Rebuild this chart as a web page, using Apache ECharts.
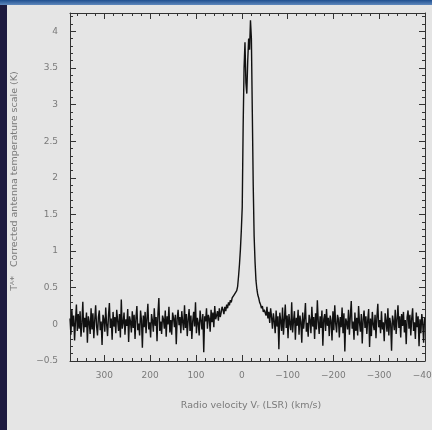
<!DOCTYPE html>
<html>
<head>
<meta charset="utf-8">
<script src="https://cdn.jsdelivr.net/npm/echarts@6/dist/echarts.min.js"></script>
<style>
html,body{margin:0;padding:0;background:#e5e5e5;overflow:hidden;}
#chart{width:432px;height:430px;}
</style>
</head>
<body>
<div id="chart"></div>
<script>
// Spectrum channels: first channel velocity and channel width (km/s)
const firstChannelVelocity = 375;
const channelWidth = -2;

// Antenna temperature (K), baseline left of the line (v = 375 ... 43 km/s)
const baselineLeft = [
  0.08, -0.14, 0.21, -0.03, 0.12, -0.22, 0.05, 0.27, -0.09, 0.14,
  -0.06, 0.18, -0.17, 0.02, 0.31, -0.11, 0.09, -0.04, 0.16, -0.25,
  0.11, 0.03, -0.13, 0.22, -0.07, 0.15, -0.19, 0.06, 0.26, -0.02,
  -0.15, 0.1, 0.19, -0.08, 0.04, -0.28, 0.13, 0.07, -0.1, 0.23,
  0.0, -0.16, 0.12, 0.29, -0.05, 0.08, -0.21, 0.17, -0.03, 0.1,
  -0.12, 0.2, 0.05, -0.09, 0.14, -0.18, 0.34, -0.06, 0.02, 0.16,
  -0.14, 0.07, -0.02, 0.21, -0.24, 0.11, 0.04, -0.11, 0.18, -0.05,
  0.13, -0.2, 0.09, 0.25, -0.08, 0.01, -0.15, 0.19, 0.06, -0.32,
  0.12, -0.04, 0.17, -0.12, 0.08, 0.28, -0.07, 0.03, -0.18, 0.14,
  0.05, -0.1, 0.22, -0.02, 0.1, -0.23, 0.15, 0.36, -0.09, 0.04,
  -0.13, 0.12, 0.07, -0.06, 0.19, -0.17, 0.11, 0.0, 0.24, -0.11,
  0.06, -0.14, 0.16, 0.09, -0.04, 0.13, -0.27, 0.08, 0.2, -0.01,
  0.1, -0.12, 0.18, 0.03, -0.08, 0.26, -0.05, 0.14, -0.16, 0.07,
  0.21, -0.09, 0.12, -0.2, 0.05, 0.17, -0.03, 0.3, -0.12, 0.09,
  0.02, -0.15, 0.19, 0.06, -0.07, 0.14, -0.38, 0.11, 0.04, 0.22,
  -0.06, 0.13, 0.08, -0.1, 0.2, 0.03, 0.16, -0.04, 0.25, 0.07,
  0.12, 0.18, 0.05, 0.22, 0.1, 0.16, 0.24
];

// Emission line (v = 41 ... -49 km/s)
const lineProfile = [
  0.2, 0.14, 0.24, 0.18, 0.27, 0.22, 0.3, 0.26, 0.33, 0.3,
  0.36, 0.34, 0.4, 0.38, 0.42, 0.46, 0.52, 0.66, 0.82, 1.02,
  1.28, 1.6, 2.7, 3.5, 3.85, 3.3, 3.15, 3.6, 3.9, 3.75,
  4.15, 3.9, 2.9, 1.9, 1.2, 0.85, 0.6, 0.48, 0.4, 0.36,
  0.3, 0.27, 0.22, 0.25, 0.17, 0.2
];

// Baseline right of the line (v = -51 ... -399 km/s)
const baselineRight = [
  0.2, 0.12, 0.24, 0.08, 0.17, 0.02, 0.22, 0.1, -0.06, 0.15,
  0.04, -0.12, 0.19, -0.03, 0.11, -0.34, 0.16, 0.05, -0.09, 0.23,
  -0.14, 0.07, 0.27, -0.05, 0.12, -0.19, 0.14, 0.01, -0.08, 0.3,
  -0.11, 0.05, 0.18, -0.21, 0.09, -0.02, 0.2, -0.14, 0.12, 0.03,
  -0.25, 0.16, -0.06, 0.08, 0.29, -0.1, 0.02, -0.17, 0.13, 0.06,
  -0.12, 0.24, -0.03, 0.1, -0.2, 0.15, -0.07, 0.33, 0.04, -0.13,
  0.11, -0.05, 0.19, -0.29, 0.07, 0.14, -0.09, 0.21, -0.02, 0.09,
  -0.16, 0.12, 0.05, -0.22, 0.18, -0.08, 0.26, 0.01, -0.11, 0.13,
  0.07, -0.18, 0.1, -0.04, 0.23, -0.12, 0.15, -0.37, 0.08, 0.03,
  -0.07, 0.2, -0.14, 0.11, 0.32, -0.06, 0.04, -0.21, 0.16, -0.09,
  0.09, -0.15, 0.25, 0.02, -0.1, 0.14, -0.26, 0.07, 0.19, -0.05,
  0.11, -0.13, 0.06, 0.21, -0.31, 0.08, -0.16, 0.17, 0.0, -0.08,
  0.13, -0.19, 0.1, 0.28, -0.04, 0.06, -0.12, 0.18, -0.07, 0.03,
  -0.23, 0.15, 0.05, -0.1, 0.22, -0.15, 0.09, 0.01, -0.36, 0.12,
  0.04, -0.08, 0.2, -0.13, 0.07, 0.26, -0.05, 0.11, -0.18, 0.14,
  -0.02, 0.17, -0.11, 0.06, -0.27, 0.1, 0.19, -0.06, 0.13, -0.15,
  0.08, 0.22, -0.09, 0.03, -0.2, 0.16, -0.04, 0.11, -0.3, 0.07,
  -0.12, 0.14, 0.02, -0.25, 0.09
];

const xTickValues = [300, 200, 100, 0, -100, -200, -300, -400];
const yTickValues = [-0.5, 0, 0.5, 1, 1.5, 2, 2.5, 3, 3.5, 4];

const xTitle = 'Radio velocity V\u1D63 (LSR) (km/s)';
const yTitle = 'T\u1D2C*   Corrected antenna temperature scale (K)';

const temperatures = baselineLeft.concat(lineProfile, baselineRight);
const spectrum = temperatures.map((t, i) => [firstChannelVelocity + i * channelWidth, t]);

const minus = s => String(s).replace('-', '\u2212');
const tickCol = '#333';
const labelCol = '#7a7a7a';

const baseX = {
  type: 'value', inverse: true, min: -400, max: 375, interval: 100,
  splitLine: {show: false},
  axisLine: {show: true, onZero: false, lineStyle: {color: tickCol, width: 1}},
  axisTick: {show: true, inside: true, length: 6, lineStyle: {color: tickCol}},
  minorTick: {show: true, splitNumber: 5, length: 3, lineStyle: {color: tickCol}},
  minorSplitLine: {show: false}
};
const baseY = {
  type: 'value', min: -0.5, max: 4.25, interval: 0.5,
  splitLine: {show: false},
  axisLine: {show: true, onZero: false, lineStyle: {color: tickCol, width: 1}},
  axisTick: {show: true, inside: true, length: 6, lineStyle: {color: tickCol}},
  minorTick: {show: true, splitNumber: 5, length: 3, lineStyle: {color: tickCol}},
  minorSplitLine: {show: false}
};

const chart = echarts.init(document.getElementById('chart'), null, {renderer: 'canvas', width: 432, height: 430});
chart.setOption({
  backgroundColor: '#e5e5e5',
  animation: false,
  grid: {left: 70, right: 7, top: 13, bottom: 69, containLabel: false, outerBoundsMode: 'none'},
  xAxis: [
    Object.assign({}, baseX, {
      position: 'bottom',
      axisLabel: {
        show: true, color: labelCol, fontSize: 9, fontFamily: 'DejaVu Sans', margin: 10,
        showMaxLabel: false,
        formatter: v => xTickValues.includes(v) ? minus(v) : ''
      }
    }),
    Object.assign({}, baseX, {position: 'top', axisLabel: {show: false}})
  ],
  yAxis: [
    Object.assign({}, baseY, {
      position: 'left',
      axisLabel: {
        show: true, color: labelCol, fontSize: 9, fontFamily: 'DejaVu Sans', margin: 12,
        showMaxLabel: false,
        formatter: v => yTickValues.includes(v) ? minus(v) : ''
      }
    }),
    Object.assign({}, baseY, {position: 'right', axisLabel: {show: false}})
  ],
  graphic: [
    {type: 'rect', left: 0, top: 0, z: 100, shape: {width: 432, height: 5},
     style: {fill: new echarts.graphic.LinearGradient(0, 0, 0, 1, [
       {offset: 0, color: '#1f4f8f'}, {offset: 1, color: '#5f88bd'}])}},
    {type: 'rect', left: 0, top: 5, z: 100, shape: {width: 7, height: 425},
     style: {fill: '#1d1a3f'}},
    {type: 'text', x: 251, y: 406, z: 50,
     style: {text: xTitle, fill: labelCol, fontSize: 9.5, fontFamily: 'DejaVu Sans',
             align: 'center', verticalAlign: 'middle'}},
    {type: 'text', x: 15, y: 181, rotation: Math.PI / 2, z: 50,
     style: {text: yTitle, fill: labelCol, fontSize: 9.5, fontFamily: 'DejaVu Sans',
             align: 'center', verticalAlign: 'middle'}}
  ],
  series: [{
    type: 'line',
    data: spectrum,
    xAxisIndex: 0, yAxisIndex: 0,
    showSymbol: false, symbol: 'none',
    lineStyle: {color: '#111111', width: 1.4},
    clip: true
  }]
});
</script>
</body>
</html>
